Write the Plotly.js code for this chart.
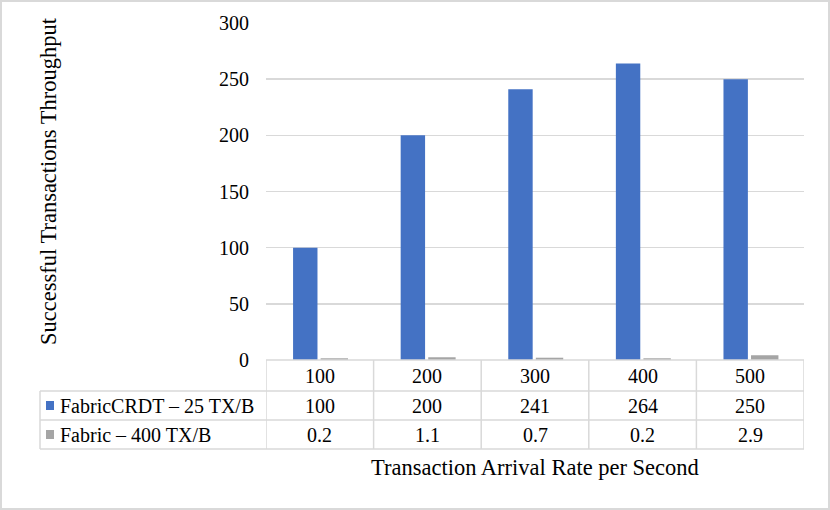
<!DOCTYPE html>
<html>
<head>
<meta charset="utf-8">
<script src="https://cdn.plot.ly/plotly-3.0.1.min.js"></script>
<style>
html,body{margin:0;padding:0;background:#fff;}
#chart{width:830px;height:510px;}
</style>
</head>
<body>
<div id="chart"></div>
<script>
const categories = ['100', '200', '300', '400', '500'];
const seriesNames = ['FabricCRDT \u2013 25 TX/B', 'Fabric \u2013 400 TX/B'];
const crdtValues = [100, 200, 241, 264, 250];
const fabricValues = [0.2, 1.1, 0.7, 0.2, 2.9];
const yTicks = [0, 50, 100, 150, 200, 250, 300];
const colors = ['#4472C4', '#A5A5A5'];

const FONT = 'Times New Roman, Liberation Serif, DejaVu Serif, serif';
const W = 830, H = 510;
const L = 266, R = 26, T = 23, B = 150;
const PW = W - L - R, PH = H - T - B;
const px = x => (x - L) / PW;
const py = y => (H - B - y) / PH;

const gridCol = '#d9d9d9';

const traces = [
  {type: 'bar', name: seriesNames[0], x: categories, y: crdtValues,
   marker: {color: colors[0]}, hoverinfo: 'skip'},
  {type: 'bar', name: seriesNames[1], x: categories, y: fabricValues,
   marker: {color: colors[1], line: {color: colors[1], width: 3}}, hoverinfo: 'skip'}
];

const shapes = [];
const annotations = [];
const line = (x0, y0, x1, y1, xref) => shapes.push({type: 'line', xref: xref || 'paper', yref: 'paper',
  x0, y0, x1, y1, line: {color: gridCol, width: 1.5}});

shapes.push({type: 'rect', xref: 'paper', yref: 'paper', x0: px(1), x1: px(829), y0: py(1), y1: py(509),
  line: {color: '#d9d9d9', width: 2}});

const rowY = [py(360), py(391), py(420), py(449)];
line(0, rowY[0], 1, rowY[0]);
line(px(40), rowY[1], 1, rowY[1]);
line(px(40), rowY[2], 1, rowY[2]);
line(px(40), rowY[3], 1, rowY[3]);
line(px(40), rowY[1], px(40), rowY[3]);
for (let i = 0; i <= categories.length; i++) {
  line(i - 0.5, rowY[0], i - 0.5, rowY[3], 'x');
}

const cellFont = {family: FONT, size: 20, color: '#000'};
const rowCenters = [py(376), py(405.5), py(434.5)];
categories.forEach((c, i) => {
  annotations.push({xref: 'x', yref: 'paper', x: i, y: rowCenters[0], text: c, showarrow: false, font: cellFont, yanchor: 'middle'});
  annotations.push({xref: 'x', yref: 'paper', x: i, y: rowCenters[1], text: String(crdtValues[i]), showarrow: false, font: cellFont, yanchor: 'middle'});
  annotations.push({xref: 'x', yref: 'paper', x: i, y: rowCenters[2], text: String(fabricValues[i]), showarrow: false, font: cellFont, yanchor: 'middle'});
});
[1, 2].forEach((r, k) => {
  const cy = r === 1 ? 405.5 : 434.5;
  shapes.push({type: 'rect', xref: 'paper', yref: 'paper', x0: px(46), x1: px(54), y0: py(cy - 4.5), y1: py(cy + 4.5),
    fillcolor: colors[k], line: {width: 0}});
  annotations.push({xref: 'paper', yref: 'paper', x: px(58), y: rowCenters[r], text: seriesNames[k], showarrow: false,
    xanchor: 'left', yanchor: 'middle', font: cellFont});
});

annotations.push({xref: 'paper', yref: 'paper', x: px(535), y: py(467), text: 'Transaction Arrival Rate per Second',
  showarrow: false, xanchor: 'center', yanchor: 'middle', font: {family: FONT, size: 22.5, color: '#000'}});
annotations.push({xref: 'paper', yref: 'paper', x: px(48), y: py(181), text: 'Successful Transactions Throughput',
  showarrow: false, textangle: -90, xanchor: 'center', yanchor: 'middle', font: {family: FONT, size: 22.5, color: '#000'}});

const layout = {
  width: W, height: H,
  margin: {l: L, r: R, t: T, b: B},
  paper_bgcolor: '#fff', plot_bgcolor: '#fff',
  showlegend: false,
  barmode: 'group', bargap: 0.46, bargroupgap: 0.16,
  font: {family: FONT, color: '#000'},
  xaxis: {type: 'category', range: [-0.5, 4.5], showticklabels: false, showgrid: false, zeroline: false, showline: false, ticks: '', fixedrange: true},
  yaxis: {range: [0, 300], tickvals: yTicks, ticktext: yTicks.map(String), showgrid: true, gridcolor: gridCol, gridwidth: 1.5,
    zeroline: false, showline: false, ticks: '', ticklabelstandoff: 16, tickfont: {family: FONT, size: 20, color: '#000'}, fixedrange: true},
  shapes, annotations
};

Plotly.newPlot('chart', traces, layout, {displayModeBar: false, staticPlot: true});
</script>
</body>
</html>
